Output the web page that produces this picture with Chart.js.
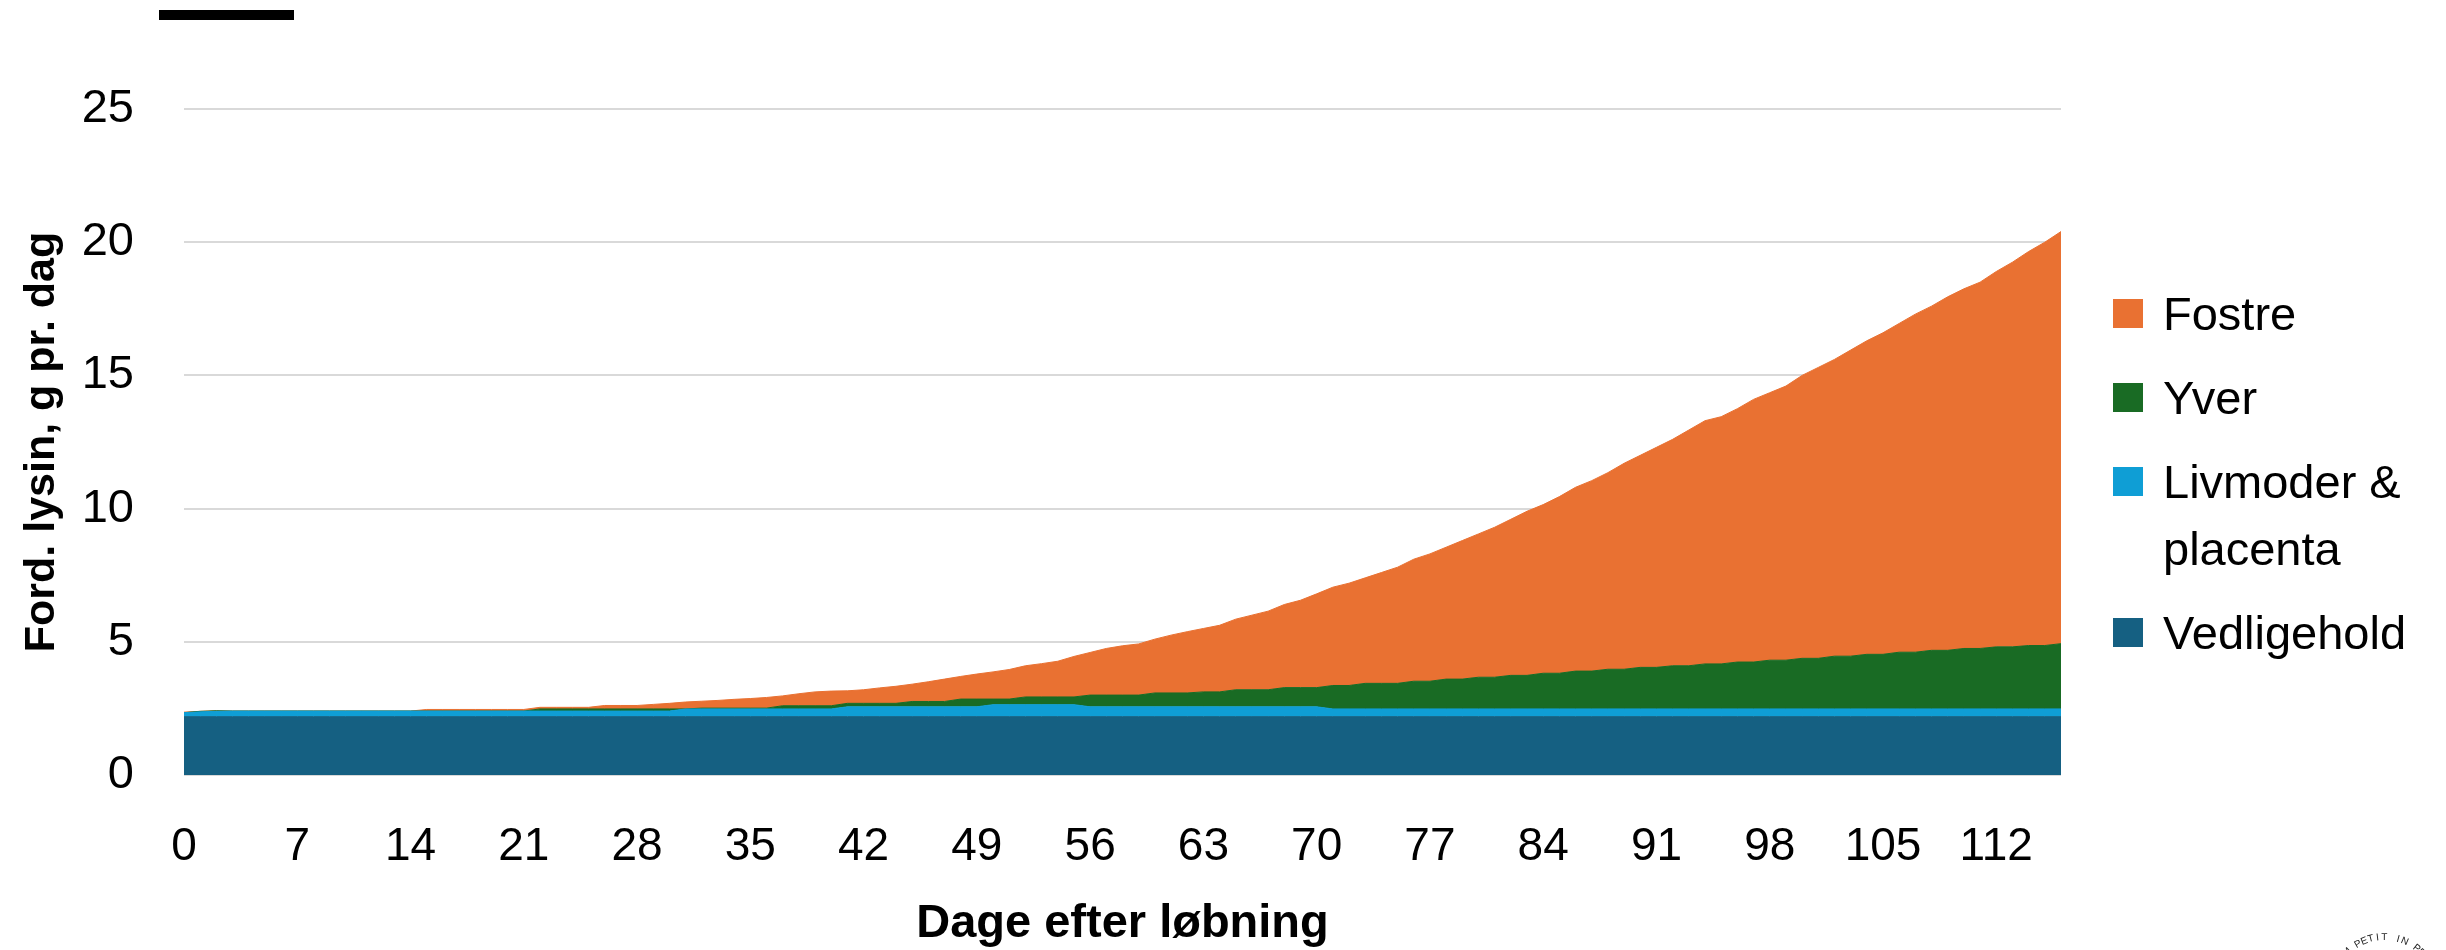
<!DOCTYPE html>
<html lang="da">
<head>
<meta charset="utf-8">
<title>Fordøjelig lysin pr. dag</title>
<script src="https://cdn.jsdelivr.net/npm/chart.js@4.4.1/dist/chart.umd.min.js"></script>
<style>
  html, body { margin: 0; padding: 0; background: #fff; }
  #wrap { position: relative; width: 2446px; height: 950px; overflow: hidden; }
  #lysinChart { display: block; }
  #topBar { position: absolute; left: 159px; top: 10px; width: 135px; height: 10px; background: #000; }
  #legend {
    position: absolute; left: 2113px; top: 280px; width: 333px;
    font-family: "Liberation Sans", Arial, sans-serif; font-size: 47px; line-height: 67px; color: #000;
  }
  .legend-item { display: flex; align-items: flex-start; margin-bottom: 17px; }
  .legend-box { width: 30px; height: 29px; margin-top: 19px; margin-right: 20px; flex: none; }
  .legend-text { width: 270px; }
  #stamp { position: absolute; left: 2384px; top: 990px; width: 0; height: 0; }
  #stamp span {
    position: absolute; left: -4px; top: -58px; width: 8px; text-align: center;
    font-family: "Liberation Sans", Arial, sans-serif; font-size: 10px; line-height: 10px; color: #222;
    transform-origin: 4px 58px;
  }
</style>
</head>
<body>
<div id="wrap">
  <canvas id="lysinChart" width="2446" height="950"></canvas>
  <div id="topBar"></div>
  <div id="legend"></div>
  <div id="stamp"></div>
</div>
<script>
// -----------------------------
// Data (g fordøjelig lysin pr. dag, dag 0-116 efter løbning)
// -----------------------------
const days = [
  0, 1, 2, 3, 4, 5, 6, 7, 8, 9, 10, 11, 12, 13, 14, 15, 16, 17, 18, 19,
  20, 21, 22, 23, 24, 25, 26, 27, 28, 29, 30, 31, 32, 33, 34, 35, 36, 37, 38, 39,
  40, 41, 42, 43, 44, 45, 46, 47, 48, 49, 50, 51, 52, 53, 54, 55, 56, 57, 58, 59,
  60, 61, 62, 63, 64, 65, 66, 67, 68, 69, 70, 71, 72, 73, 74, 75, 76, 77, 78, 79,
  80, 81, 82, 83, 84, 85, 86, 87, 88, 89, 90, 91, 92, 93, 94, 95, 96, 97, 98, 99,
  100, 101, 102, 103, 104, 105, 106, 107, 108, 109, 110, 111, 112, 113, 114, 115, 116
];

const tickDays = [0, 7, 14, 21, 28, 35, 42, 49, 56, 63, 70, 77, 84, 91, 98, 105, 112];

const vedligehold = [
  2.19, 2.19, 2.19, 2.19, 2.19, 2.19, 2.19, 2.19, 2.19, 2.19,
  2.19, 2.19, 2.19, 2.19, 2.19, 2.19, 2.19, 2.19, 2.19, 2.19,
  2.19, 2.19, 2.19, 2.19, 2.19, 2.19, 2.19, 2.19, 2.19, 2.19,
  2.19, 2.19, 2.19, 2.19, 2.19, 2.19, 2.19, 2.19, 2.19, 2.19,
  2.19, 2.19, 2.19, 2.19, 2.19, 2.19, 2.19, 2.19, 2.19, 2.19,
  2.19, 2.19, 2.19, 2.19, 2.19, 2.19, 2.19, 2.19, 2.19, 2.19,
  2.19, 2.19, 2.19, 2.19, 2.19, 2.19, 2.19, 2.19, 2.19, 2.19,
  2.19, 2.19, 2.19, 2.19, 2.19, 2.19, 2.19, 2.19, 2.19, 2.19,
  2.19, 2.19, 2.19, 2.19, 2.19, 2.19, 2.19, 2.19, 2.19, 2.19,
  2.19, 2.19, 2.19, 2.19, 2.19, 2.19, 2.19, 2.19, 2.19, 2.19,
  2.19, 2.19, 2.19, 2.19, 2.19, 2.19, 2.19, 2.19, 2.19, 2.19,
  2.19, 2.19, 2.19, 2.19, 2.19, 2.19, 2.19
];

const livmoder = [
  0.15, 0.18, 0.20, 0.21, 0.21, 0.21, 0.21, 0.21, 0.21, 0.21,
  0.21, 0.21, 0.21, 0.21, 0.21, 0.21, 0.21, 0.21, 0.21, 0.21,
  0.21, 0.21, 0.21, 0.21, 0.21, 0.21, 0.21, 0.21, 0.21, 0.21,
  0.21, 0.29, 0.29, 0.29, 0.29, 0.29, 0.29, 0.29, 0.29, 0.29,
  0.29, 0.37, 0.37, 0.37, 0.37, 0.37, 0.37, 0.37, 0.37, 0.37,
  0.45, 0.45, 0.45, 0.45, 0.45, 0.45, 0.37, 0.37, 0.37, 0.37,
  0.37, 0.37, 0.37, 0.37, 0.37, 0.37, 0.37, 0.37, 0.37, 0.37,
  0.37, 0.29, 0.29, 0.29, 0.29, 0.29, 0.29, 0.29, 0.29, 0.29,
  0.29, 0.29, 0.29, 0.29, 0.29, 0.29, 0.29, 0.29, 0.29, 0.29,
  0.29, 0.29, 0.29, 0.29, 0.29, 0.29, 0.29, 0.29, 0.29, 0.29,
  0.29, 0.29, 0.29, 0.29, 0.29, 0.29, 0.29, 0.29, 0.29, 0.29,
  0.29, 0.29, 0.29, 0.29, 0.29, 0.29, 0.29
];

const yver = [
  0.00, 0.02, 0.02, 0.00, 0.00, 0.00, 0.00, 0.00, 0.00, 0.00,
  0.00, 0.00, 0.00, 0.00, 0.00, 0.00, 0.00, 0.00, 0.00, 0.00,
  0.00, 0.00, 0.08, 0.08, 0.08, 0.08, 0.08, 0.08, 0.08, 0.08,
  0.08, 0.00, 0.03, 0.03, 0.03, 0.03, 0.03, 0.12, 0.12, 0.12,
  0.12, 0.13, 0.13, 0.13, 0.13, 0.20, 0.20, 0.20, 0.29, 0.29,
  0.21, 0.21, 0.29, 0.29, 0.29, 0.29, 0.44, 0.44, 0.44, 0.44,
  0.52, 0.52, 0.52, 0.56, 0.56, 0.64, 0.64, 0.64, 0.72, 0.72,
  0.72, 0.88, 0.88, 0.96, 0.96, 0.96, 1.04, 1.04, 1.12, 1.12,
  1.19, 1.19, 1.26, 1.26, 1.34, 1.34, 1.42, 1.42, 1.49, 1.49,
  1.56, 1.56, 1.62, 1.62, 1.69, 1.69, 1.76, 1.76, 1.83, 1.83,
  1.90, 1.90, 1.98, 1.98, 2.05, 2.05, 2.13, 2.13, 2.20, 2.20,
  2.27, 2.27, 2.33, 2.33, 2.38, 2.38, 2.45
];

const fostre = [
  0.02, 0.00, 0.00, 0.00, 0.00, 0.00, 0.00, 0.00, 0.00, 0.00,
  0.00, 0.00, 0.00, 0.00, 0.00, 0.06, 0.06, 0.06, 0.06, 0.06,
  0.06, 0.06, 0.06, 0.06, 0.06, 0.06, 0.13, 0.13, 0.13, 0.17,
  0.21, 0.26, 0.26, 0.29, 0.33, 0.36, 0.40, 0.37, 0.45, 0.52,
  0.55, 0.47, 0.51, 0.58, 0.64, 0.65, 0.74, 0.84, 0.85, 0.94,
  1.02, 1.11, 1.17, 1.25, 1.34, 1.52, 1.60, 1.75, 1.85, 1.92,
  2.02, 2.17, 2.30, 2.38, 2.50, 2.65, 2.80, 2.95, 3.12, 3.28,
  3.52, 3.69, 3.84, 3.96, 4.16, 4.36, 4.58, 4.78, 4.95, 5.20,
  5.38, 5.63, 5.86, 6.16, 6.33, 6.63, 6.90, 7.15, 7.38, 7.73,
  7.96, 8.26, 8.50, 8.85, 9.13, 9.28, 9.51, 9.86, 10.04, 10.29,
  10.62, 10.92, 11.14, 11.49, 11.77, 12.07, 12.34, 12.69, 12.92, 13.27,
  13.50, 13.75, 14.09, 14.44, 14.79, 15.14, 15.47
];

// -----------------------------
// Chart
// -----------------------------
const FONT = "'Liberation Sans', Arial, sans-serif";

function areaSet(label, data, color, fill) {
  return {
    label: label,
    data: data,
    backgroundColor: color,
    borderColor: color,
    borderWidth: 1,
    fill: fill,
    pointRadius: 0,
    pointHoverRadius: 0,
    tension: 0
  };
}

const ctx = document.getElementById("lysinChart").getContext("2d");
const lysinChart = new Chart(ctx, {
  type: "line",
  data: {
    labels: days,
    datasets: [
      areaSet("Vedligehold", vedligehold, "#156082", "origin"),
      areaSet("Livmoder & placenta", livmoder, "#0F9ED5", "-1"),
      areaSet("Yver", yver, "#196B24", "-1"),
      areaSet("Fostre", fostre, "#E97132", "-1")
    ]
  },
  options: {
    responsive: false,
    animation: false,
    events: [],
    layout: { padding: { top: 109, right: 385, bottom: 0, left: 0 } },
    plugins: {
      legend: { display: false },
      tooltip: { enabled: false }
    },
    scales: {
      x: {
        offset: false,
        grid: { display: false, drawTicks: false },
        border: { display: false },
        ticks: {
          autoSkip: false,
          maxRotation: 0,
          padding: 45,
          color: "#000",
          font: { family: FONT, size: 46 },
          callback: function (value) {
            const day = Number(this.getLabelForValue(value));
            return tickDays.includes(day) ? String(day) : null;
          }
        },
        title: {
          display: true,
          text: "Dage efter løbning",
          color: "#000",
          font: { family: FONT, size: 47, weight: "bold", lineHeight: 1.1 },
          padding: { top: 0, bottom: 0 }
        },
        afterFit: function (scale) { scale.height = 175; }
      },
      y: {
        stacked: true,
        min: 0,
        max: 25,
        grid: { color: "#d9d9d9", lineWidth: 2, drawTicks: false },
        border: { display: false },
        ticks: {
          stepSize: 5,
          padding: 50,
          color: "#000",
          font: { family: FONT, size: 47 }
        },
        title: {
          display: true,
          text: "Ford. lysin, g pr. dag",
          color: "#000",
          font: { family: FONT, size: 43, weight: "bold" },
          padding: { top: 16, bottom: 0 }
        },
        afterFit: function (scale) { scale.width = 184; }
      }
    }
  }
});

// -----------------------------
// Legend (built from the datasets, top series first)
// -----------------------------
function buildLegend(chart) {
  const box = document.getElementById("legend");
  box.innerHTML = "";
  chart.data.datasets.slice().reverse().forEach(ds => {
    const item = document.createElement("div");
    item.className = "legend-item";
    const swatch = document.createElement("div");
    swatch.className = "legend-box";
    swatch.style.background = ds.backgroundColor;
    const text = document.createElement("div");
    text.className = "legend-text";
    text.textContent = ds.label;
    item.appendChild(swatch);
    item.appendChild(text);
    box.appendChild(item);
  });
}

// small round stamp, cut off in the lower right corner
function buildStamp() {
  const stamp = document.getElementById("stamp");
  const letters = "UM PETIT IN PROF".split("");
  letters.forEach((ch, i) => {
    const span = document.createElement("span");
    span.textContent = ch;
    span.style.transform = "rotate(" + (-52 + i * 7.5) + "deg)";
    stamp.appendChild(span);
  });
}

buildLegend(lysinChart);
buildStamp();
</script>
</body>
</html>
